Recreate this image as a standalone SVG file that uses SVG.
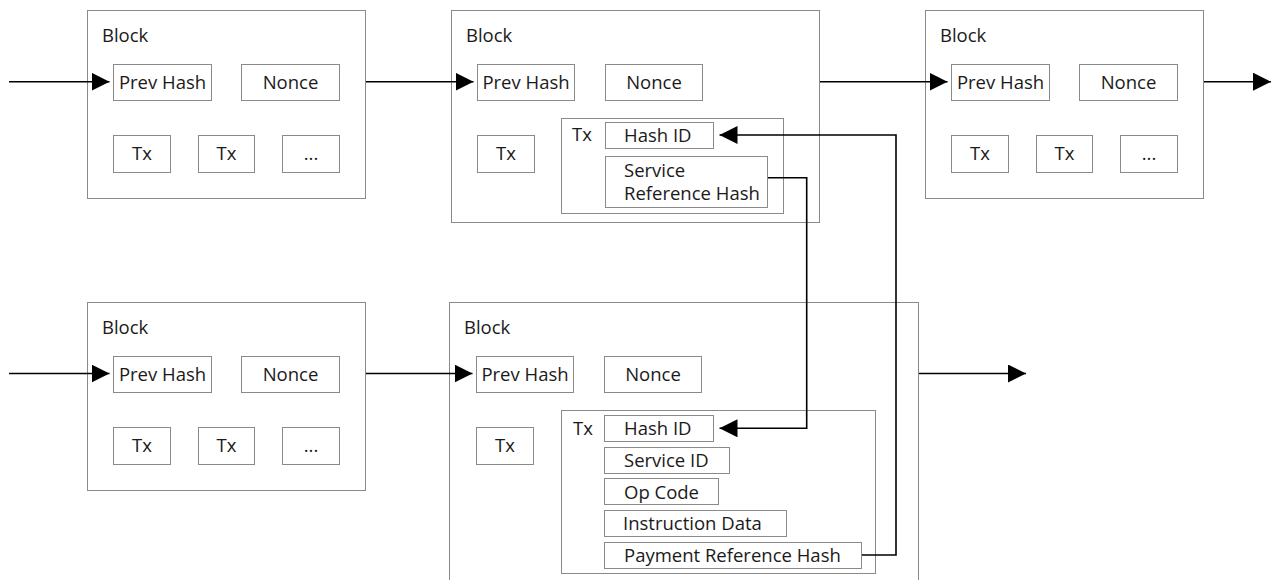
<svg xmlns="http://www.w3.org/2000/svg" width="1273" height="580" viewBox="0 0 1273 580">
<style>
rect{fill:#fff;stroke:#8a8a8a;stroke-width:1}
text{font-family:"Open Sans","Liberation Sans",Arial,sans-serif;font-size:18.5px;fill:#1a1a1a}
.c{text-anchor:middle}
.ln{fill:none;stroke:#000;stroke-width:1.6}
</style>
<defs>
<marker id="ah" markerUnits="userSpaceOnUse" markerWidth="18" markerHeight="18" viewBox="0 0 17 17" refX="17" refY="8.5" orient="auto">
<path d="M0,0 L17,8.5 L0,17 Z" fill="#000"/>
</marker>
</defs>
<rect x="0" y="0" width="1273" height="580" style="stroke:none"/>
<g id="block1">
<rect x="87.5" y="10.5" width="278" height="188"/>
<text x="102" y="42">Block</text>
<rect x="113.5" y="64.5" width="98" height="36"/><text class="c" x="162.5" y="88.5">Prev Hash</text>
<rect x="241.5" y="64.5" width="98" height="36"/><text class="c" x="290.5" y="88.5">Nonce</text>
<rect x="113.5" y="135.5" width="57" height="37"/><text class="c" x="142" y="160">Tx</text>
<rect x="198.5" y="135.5" width="56" height="37"/><text class="c" x="226.5" y="160">Tx</text>
<rect x="282.5" y="135.5" width="57" height="37"/><text class="c" x="311" y="160">...</text>
</g>
<g id="block2">
<rect x="451.5" y="10.5" width="368" height="212"/>
<text x="466" y="42">Block</text>
<rect x="477.5" y="64.5" width="97" height="36"/><text class="c" x="526" y="88.5">Prev Hash</text>
<rect x="605.5" y="64.5" width="97" height="36"/><text class="c" x="654" y="88.5">Nonce</text>
<rect x="477.5" y="135.5" width="57" height="37"/><text class="c" x="506" y="160">Tx</text>
<rect x="561.5" y="118.5" width="222" height="95"/>
<text x="572" y="141">Tx</text>
<rect x="605.5" y="122.5" width="108" height="26"/><text x="624" y="141.5">Hash ID</text>
<rect x="605.5" y="156.5" width="162" height="51"/>
<text x="624" y="177">Service</text>
<text x="624" y="199.5">Reference Hash</text>
</g>
<g id="block3">
<rect x="925.5" y="10.5" width="278" height="188"/>
<text x="940" y="42">Block</text>
<rect x="951.5" y="64.5" width="98" height="36"/><text class="c" x="1000.5" y="88.5">Prev Hash</text>
<rect x="1079.5" y="64.5" width="98" height="36"/><text class="c" x="1128.5" y="88.5">Nonce</text>
<rect x="951.5" y="135.5" width="57" height="37"/><text class="c" x="980" y="160">Tx</text>
<rect x="1036.5" y="135.5" width="56" height="37"/><text class="c" x="1064.5" y="160">Tx</text>
<rect x="1120.5" y="135.5" width="57" height="37"/><text class="c" x="1149" y="160">...</text>
</g>
<g id="block4">
<rect x="87.5" y="302.5" width="278" height="188"/>
<text x="102" y="334">Block</text>
<rect x="113.5" y="356.5" width="98" height="36"/><text class="c" x="162.5" y="380.5">Prev Hash</text>
<rect x="241.5" y="356.5" width="98" height="36"/><text class="c" x="290.5" y="380.5">Nonce</text>
<rect x="113.5" y="427.5" width="57" height="37"/><text class="c" x="142" y="452">Tx</text>
<rect x="198.5" y="427.5" width="56" height="37"/><text class="c" x="226.5" y="452">Tx</text>
<rect x="282.5" y="427.5" width="57" height="37"/><text class="c" x="311" y="452">...</text>
</g>
<g id="block5">
<rect x="449.5" y="302.5" width="469" height="290"/>
<text x="464" y="334">Block</text>
<rect x="476.5" y="356.5" width="97" height="36"/><text class="c" x="525" y="380.5">Prev Hash</text>
<rect x="604.5" y="356.5" width="97" height="36"/><text class="c" x="653" y="380.5">Nonce</text>
<rect x="476.5" y="427.5" width="57" height="37"/><text class="c" x="505" y="452">Tx</text>
<rect x="561.5" y="410.5" width="314" height="163"/>
<text x="573" y="434.5">Tx</text>
<rect x="604.5" y="415.5" width="109" height="26"/><text x="624" y="435">Hash ID</text>
<rect x="604.5" y="447.5" width="125" height="26"/><text x="624" y="467">Service ID</text>
<rect x="604.5" y="478.5" width="114" height="26"/><text x="624" y="498.5">Op Code</text>
<rect x="604.5" y="510.5" width="182" height="26"/><text x="623" y="530">Instruction Data</text>
<rect x="604.5" y="542.5" width="257" height="26"/><text x="624" y="562">Payment Reference Hash</text>
</g>
<g id="connectors">
<path class="ln" marker-end="url(#ah)" d="M9,81.7 H109.5"/>
<path class="ln" marker-end="url(#ah)" d="M366,81.7 H473.5"/>
<path class="ln" marker-end="url(#ah)" d="M820,81.7 H947.5"/>
<path class="ln" marker-end="url(#ah)" d="M1204,81.7 H1271"/>
<path class="ln" marker-end="url(#ah)" d="M9,373.5 H109.5"/>
<path class="ln" marker-end="url(#ah)" d="M366,373.5 H472.5"/>
<path class="ln" marker-end="url(#ah)" d="M919,373.5 H1026"/>
<path class="ln" marker-end="url(#ah)" d="M768,177.7 H806.7 V428.3 H719.5"/>
<path class="ln" marker-end="url(#ah)" d="M862,555 H896 V135 H719.5"/>
</g>
</svg>
